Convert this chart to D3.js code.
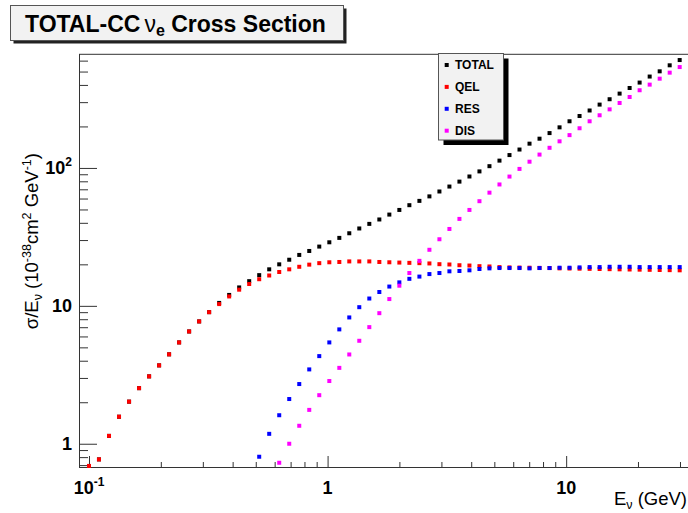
<!DOCTYPE html>
<html><head><meta charset="utf-8">
<script src="https://cdn.jsdelivr.net/npm/d3@7"></script>
<style>body{margin:0;background:#fff} svg{display:block}</style>
</head><body>
<svg id="c" width="688" height="513"></svg>
<script>
// ---------------- data ----------------
const energy = [0.1, 0.1101, 0.1213, 0.1336, 0.1472, 0.1621, 0.1786, 0.1967, 0.2166, 0.2386,
  0.2628, 0.2895, 0.3188, 0.3512, 0.3868, 0.4260, 0.4693, 0.5169, 0.5693, 0.6271,
  0.6907, 0.7608, 0.8379, 0.9229, 1.017, 1.120, 1.233, 1.358, 1.496, 1.648,
  1.815, 1.999, 2.202, 2.426, 2.672, 2.943, 3.241, 3.570, 3.932, 4.331,
  4.770, 5.254, 5.787, 6.374, 7.021, 7.733, 8.518, 9.382, 10.33, 11.38,
  12.54, 13.81, 15.21, 16.75, 18.45, 20.32, 22.39, 24.66, 27.16, 29.91];

const qel = [0.69, 0.77, 1.14, 1.57, 2.02, 2.53, 3.08, 3.70, 4.45, 5.43,
  6.52, 7.71, 9.0, 10.3, 11.7, 13.1, 14.4, 15.6, 16.6, 17.6,
  18.4, 19.2, 19.9, 20.4, 20.7, 20.8, 21.0, 21.0, 21.0, 20.8,
  20.7, 20.6, 20.5, 20.4, 20.3, 20.05, 19.95, 19.7, 19.6, 19.4,
  19.3, 19.1, 19.0, 18.95, 18.9, 18.85, 18.8, 18.7, 18.65, 18.6,
  18.55, 18.5, 18.45, 18.4, 18.35, 18.3, 18.25, 18.2, 18.15, 18.1];

const res = [null, null, null, null, null, null, null, null, null, null,
  null, null, null, null, null, null, null, 0.805, 1.18, 1.61,
  2.11, 2.71, 3.46, 4.32, 5.43, 6.75, 8.24, 9.78, 11.3, 12.6,
  13.8, 14.8, 15.7, 16.3, 17.0, 17.3, 17.8, 17.9, 18.1, 18.5,
  18.7, 18.8, 18.8, 18.8, 18.7, 18.8, 18.8, 18.9, 18.9, 19.0,
  19.1, 19.1, 19.2, 19.2, 19.2, 19.1, 19.1, 19.1, 19.1, 19.1];

const dis = [null, null, null, null, null, null, null, null, null, null,
  null, null, null, null, null, null, null, null, null, 0.728,
  1.0, 1.35, 1.76, 2.25, 2.85, 3.55, 4.44, 5.58, 7.01, 8.85,
  11.2, 14.0, 17.3, 21.2, 25.5, 30.4, 36.1, 42.7, 49.6, 57.4,
  66.2, 75.9, 86.6, 98.4, 111, 125, 140, 156, 173, 194,
  218, 241, 266, 296, 327, 366, 402, 444, 491, 539];

const total = [0.69, 0.77, 1.14, 1.57, 2.02, 2.53, 3.08, 3.70, 4.45, 5.43,
  6.52, 7.71, 9.0, 10.5, 12.0, 13.6, 15.1, 16.7, 18.4, 20.0,
  21.6, 23.4, 25.0, 26.9, 28.9, 31.1, 33.6, 36.4, 39.3, 42.3,
  45.9, 49.6, 53.7, 57.7, 62.2, 67.5, 73.3, 79.6, 86.7, 94.4,
  103, 113, 124, 136, 150, 163, 179, 197, 218, 238,
  261, 288, 315, 346, 380, 416, 460, 502, 555, 606];

const seriesNames = ["TOTAL", "QEL", "RES", "DIS"];
const seriesValues = [total, qel, res, dis];
const seriesColors = ["#000000", "#ff0000", "#0000ff", "#ff00ff"];

const xMajorTicks = [0.1, 1, 10];
const xMajorLabels = [["10", "-1"], ["1", ""], ["10", ""]];
const xMinorTicks = [0.2, 0.3, 0.4, 0.5, 0.6, 0.7, 0.8, 0.9, 2, 3, 4, 5, 6, 7, 8, 9, 20, 30, 40];
const yMajorTicks = [1, 10, 100];
const yMajorLabels = [["1", ""], ["10", ""], ["10", "2"]];
const yMinorTicks = [0.7, 0.8, 0.9, 2, 3, 4, 5, 6, 7, 8, 9, 20, 30, 40, 50, 60, 70, 80, 90, 200, 300, 400, 500, 600];

const titleMain = "TOTAL-CC";
const titleNu = "ν";
const titleSub = "e";
const titleRest = " Cross Section";

// ---------------- layout ----------------
const FONT = "'Liberation Sans', Arial, Helvetica, sans-serif";
const fx0 = 79, fx1 = 722, fy0 = 54.3, fy1 = 468;
const x = d3.scaleLog().domain([0.0908, 45]).range([fx0, fx1]);
const y = d3.scaleLog().domain([0.667, 667]).range([fy1, fy0]);

const svg = d3.select("#c");
svg.append("rect").attr("width", 688).attr("height", 513).attr("fill", "#fff");

svg.append("clipPath").attr("id", "frameclip")
  .append("rect").attr("x", fx0).attr("y", fy0).attr("width", fx1 - fx0).attr("height", fy1 - fy0);

const axisColor = "#333";
function styleAxis(g) {
  g.select(".domain").remove();
  g.selectAll(".tick line").attr("stroke", axisColor).attr("stroke-width", 1);
  g.selectAll(".tick text").remove();
}
svg.append("g").attr("transform", `translate(0,${fy1})`)
  .call(d3.axisBottom(x).tickValues(xMajorTicks).tickSizeInner(-12).tickSizeOuter(0))
  .call(styleAxis);
svg.append("g").attr("transform", `translate(0,${fy1})`)
  .call(d3.axisBottom(x).tickValues(xMinorTicks).tickSizeInner(-6).tickSizeOuter(0))
  .call(styleAxis);
svg.append("g").attr("transform", `translate(${fx0},0)`)
  .call(d3.axisLeft(y).tickValues(yMajorTicks).tickSizeInner(-18).tickSizeOuter(0))
  .call(styleAxis);
svg.append("g").attr("transform", `translate(${fx0},0)`)
  .call(d3.axisLeft(y).tickValues(yMinorTicks).tickSizeInner(-9).tickSizeOuter(0))
  .call(styleAxis);

svg.append("rect").attr("x", fx0 + 0.5).attr("y", fy0).attr("width", fx1 - fx0).attr("height", fy1 - fy0 - 0.5)
  .attr("fill", "none").attr("stroke", axisColor).attr("stroke-width", 1);

// tick labels
const xl = svg.append("g").attr("font-family", FONT).attr("font-weight", "bold").attr("font-size", 18).attr("fill", "#000");
xMajorTicks.forEach((v, i) => {
  const t = xl.append("text").attr("x", x(v)).attr("y", 493.5).attr("text-anchor", "middle");
  t.append("tspan").text(xMajorLabels[i][0]);
  if (xMajorLabels[i][1]) t.append("tspan").attr("dy", -8).attr("font-size", 12).text(xMajorLabels[i][1]);
});
const yl = svg.append("g").attr("font-family", FONT).attr("font-weight", "bold").attr("font-size", 18).attr("fill", "#000");
yMajorTicks.forEach((v, i) => {
  const t = yl.append("text").attr("x", 72).attr("y", y(v) + 6.5).attr("text-anchor", "end");
  t.append("tspan").text(yMajorLabels[i][0]);
  if (yMajorLabels[i][1]) t.append("tspan").attr("dy", -8).attr("font-size", 12).text(yMajorLabels[i][1]);
});

// axis titles
const xt = svg.append("text").attr("font-family", FONT).attr("font-size", 18.5).attr("fill", "#000")
  .attr("x", 687).attr("y", 505).attr("text-anchor", "end");
xt.append("tspan").text("E");
xt.append("tspan").attr("font-size", 12.5).attr("dy", 4).text("ν");
xt.append("tspan").attr("dy", -4).text(" (GeV)");

const yt = svg.append("text").attr("font-family", FONT).attr("font-size", 18.5).attr("fill", "#000")
  .attr("transform", "translate(38,153) rotate(-90)").attr("text-anchor", "end");
yt.append("tspan").text("σ/E");
yt.append("tspan").attr("font-size", 12.5).attr("dy", 4).text("ν");
yt.append("tspan").attr("dy", -4).text(" (10");
yt.append("tspan").attr("font-size", 12.5).attr("dy", -7.5).text("-38");
yt.append("tspan").attr("dy", 7.5).text("cm");
yt.append("tspan").attr("font-size", 12.5).attr("dy", -7.5).text("2");
yt.append("tspan").attr("dy", 7.5).text(" GeV");
yt.append("tspan").attr("font-size", 12.5).attr("dy", -7.5).text("-1");
yt.append("tspan").attr("dy", 7.5).text(")");

// markers
const plot = svg.append("g").attr("clip-path", "url(#frameclip)");
const ms = 4;
seriesValues.forEach((vals, si) => {
  const pts = energy.map((e, i) => ({ e, v: vals[i] })).filter(d => d.v != null);
  plot.append("g").selectAll("rect").data(pts).join("rect")
    .attr("x", d => x(d.e) - ms / 2).attr("y", d => y(d.v) - ms / 2)
    .attr("width", ms).attr("height", ms)
    .attr("fill", seriesColors[si]);
});

// legend
const lg = svg.append("g");
const lx0 = 438.5, ly0 = 53.5, lw = 65, lh = 86.5;
lg.append("rect").attr("x", lx0 + 5).attr("y", ly0 + 5).attr("width", lw).attr("height", lh).attr("fill", "#000");
lg.append("rect").attr("x", lx0).attr("y", ly0).attr("width", lw).attr("height", lh)
  .attr("fill", "#f2f2f2").attr("stroke", "#555").attr("stroke-width", 1);
seriesNames.forEach((n, i) => {
  const cy = 65 + i * 21.9;
  lg.append("rect").attr("x", 446.7 - ms / 2).attr("y", cy - ms / 2).attr("width", ms).attr("height", ms).attr("fill", seriesColors[i]);
  lg.append("text").attr("x", 455).attr("y", cy + 4.3).attr("font-family", FONT).attr("font-weight", "bold")
    .attr("font-size", 12).attr("fill", "#000").text(n);
});

// title box
const tg = svg.append("g");
tg.append("rect").attr("x", 13.5).attr("y", 8.5).attr("width", 333).attr("height", 35).attr("fill", "#222");
tg.append("rect").attr("x", 10.5).attr("y", 5.5).attr("width", 333).attr("height", 35)
  .attr("fill", "#f2f2f2").attr("stroke", "#555").attr("stroke-width", 1);
const tt = tg.append("text").attr("x", 25).attr("y", 32).attr("font-family", FONT).attr("font-weight", "bold")
  .attr("font-size", 23).attr("fill", "#000");
tt.append("tspan").text(titleMain);
tt.append("tspan").attr("dx", 4).attr("font-weight", "normal").text(titleNu);
tt.append("tspan").attr("font-size", 16).attr("dy", 4).text(titleSub);
tt.append("tspan").attr("dy", -4).text(titleRest);
</script>
</body></html>
